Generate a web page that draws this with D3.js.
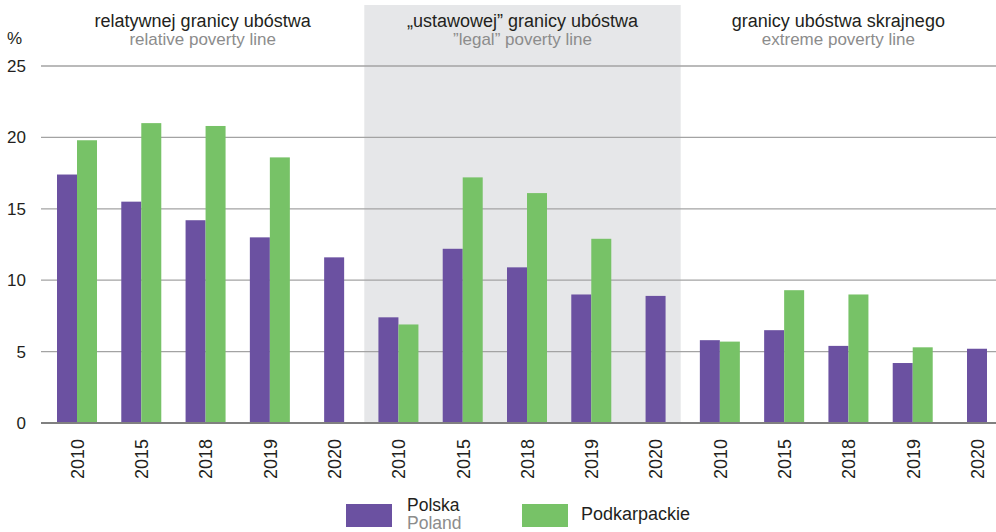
<!DOCTYPE html>
<html>
<head>
<meta charset="utf-8">
<script src="https://cdn.jsdelivr.net/npm/d3@7/dist/d3.min.js"></script>
<style>
  body { margin: 0; background: #fff; }
  svg { display: block; font-family: "Liberation Sans", Arial, sans-serif; }
</style>
</head>
<body>
<svg id="chart" width="996" height="532"></svg>
<script>
// ---- data ----
const groupTitlesPL = ["relatywnej granicy ubóstwa", "\u201eustawowej\u201d granicy ubóstwa", "granicy ubóstwa skrajnego"];
const groupTitlesEN = ["relative poverty line", "\u201dlegal\u201d poverty line", "extreme poverty line"];
const years = ["2010", "2015", "2018", "2019", "2020"];
const polska = [
  [17.4, 15.5, 14.2, 13.0, 11.6],
  [7.4, 12.2, 10.9, 9.0, 8.9],
  [5.8, 6.5, 5.4, 4.2, 5.2]
];
const podkarpackie = [
  [19.8, 21.0, 20.8, 18.6, null],
  [6.9, 17.2, 16.1, 12.9, null],
  [5.7, 9.3, 9.0, 5.3, null]
];
const yTicks = [0, 5, 10, 15, 20, 25];
const seriesNames = ["Polska", "Podkarpackie"];
const seriesNamesEN = ["Poland", ""];
const colors = ["#6b51a1", "#77c267"];

// ---- layout ----
(function () {
const svg = d3.select("#chart");
const mLeft = 41, mRight = 996, mTop = 66, mBottom = 423;
const barW = 20;

const cats = [];
groupTitlesPL.forEach((g, gi) => years.forEach((yr, yi) => cats.push({ key: gi + "-" + yr, gi, yi, year: yr, p: polska[gi][yi], k: podkarpackie[gi][yi] })));

const x = d3.scalePoint().domain(cats.map(c => c.key)).range([77, 977]);
const y = d3.scaleLinear().domain([0, 25]).range([mBottom, mTop]);

// group edges
const edges = [mLeft];
for (let gi = 0; gi < groupTitlesPL.length - 1; gi++) {
  const lastX = x(gi + "-" + years[years.length - 1]) + barW / 2;
  const firstX = x((gi + 1) + "-" + years[0]) - barW;
  edges.push((lastX + firstX) / 2 + (gi === 0 ? 3 : -2));
}
edges.push(mRight);

// shaded middle group
svg.append("rect")
  .attr("x", edges[1]).attr("y", 5)
  .attr("width", edges[2] - edges[1]).attr("height", mBottom - 5)
  .attr("fill", "#e6e7e9");

// gridlines
svg.append("g").selectAll("line").data(yTicks.filter(t => t > 0)).join("line")
  .attr("x1", mLeft).attr("x2", mRight)
  .attr("y1", d => y(d)).attr("y2", d => y(d))
  .attr("stroke", "#a3a3a3").attr("stroke-width", 1.3);

// y-axis labels
const yAxis = d3.axisLeft(y).tickValues(yTicks).tickSize(0).tickPadding(0);
const ya = svg.append("g").attr("transform", "translate(26,0)").call(yAxis);
ya.select(".domain").remove();
ya.selectAll("text").attr("font-size", 17).attr("fill", "#231f20")
  .attr("font-family", "Liberation Sans, Arial, sans-serif");

svg.append("text").attr("x", 7).attr("y", 44).attr("font-size", 17).attr("fill", "#231f20").text("%");

// bars
const bars = svg.append("g");
cats.forEach(c => {
  const cx = x(c.key);
  if (c.k == null) {
    bars.append("rect").attr("x", cx - barW / 2).attr("y", y(c.p))
      .attr("width", barW).attr("height", y(0) - y(c.p)).attr("fill", colors[0]);
  } else {
    bars.append("rect").attr("x", cx - barW).attr("y", y(c.p))
      .attr("width", barW).attr("height", y(0) - y(c.p)).attr("fill", colors[0]);
    bars.append("rect").attr("x", cx).attr("y", y(c.k))
      .attr("width", barW).attr("height", y(0) - y(c.k)).attr("fill", colors[1]);
  }
});

// baseline
svg.append("line").attr("x1", mLeft).attr("x2", mRight)
  .attr("y1", y(0)).attr("y2", y(0))
  .attr("stroke", "#808080").attr("stroke-width", 2);

// x labels
const xAxis = d3.axisBottom(x).tickSize(0).tickFormat(k => k.split("-")[1]);
const xa = svg.append("g").attr("transform", `translate(0,${mBottom})`).call(xAxis);
xa.select(".domain").remove();
xa.selectAll("text")
  .attr("font-size", 18).attr("fill", "#231f20")
  .attr("font-family", "Liberation Sans, Arial, sans-serif")
  .attr("transform", "rotate(-90)")
  .attr("text-anchor", "end")
  .attr("x", -16).attr("y", 0).attr("dy", "0.35em");

// group titles
groupTitlesPL.forEach((t, gi) => {
  const cx = (edges[gi] + edges[gi + 1]) / 2;
  svg.append("text").attr("x", cx).attr("y", 27).attr("text-anchor", "middle")
    .attr("font-size", 18).attr("fill", "#231f20").text(t);
  svg.append("text").attr("x", cx).attr("y", 44.5).attr("text-anchor", "middle")
    .attr("font-size", 17).attr("fill", "#8c8c8c").text(groupTitlesEN[gi]);
});

// legend
const legendX = [346, 522];
seriesNames.forEach((s, i) => {
  const g = svg.append("g").attr("transform", `translate(${legendX[i]},504)`);
  g.append("rect").attr("width", 46).attr("height", 23).attr("fill", colors[i]);
  if (seriesNamesEN[i]) {
    g.append("text").attr("x", 61).attr("y", 7).attr("font-size", 17.5).attr("fill", "#231f20").text(s);
    g.append("text").attr("x", 61).attr("y", 24.5).attr("font-size", 17.5).attr("fill", "#8c8c8c").text(seriesNamesEN[i]);
  } else {
    g.append("text").attr("x", 59).attr("y", 16).attr("font-size", 18).attr("fill", "#231f20").text(s);
  }
});
})();
</script>
</body>
</html>
